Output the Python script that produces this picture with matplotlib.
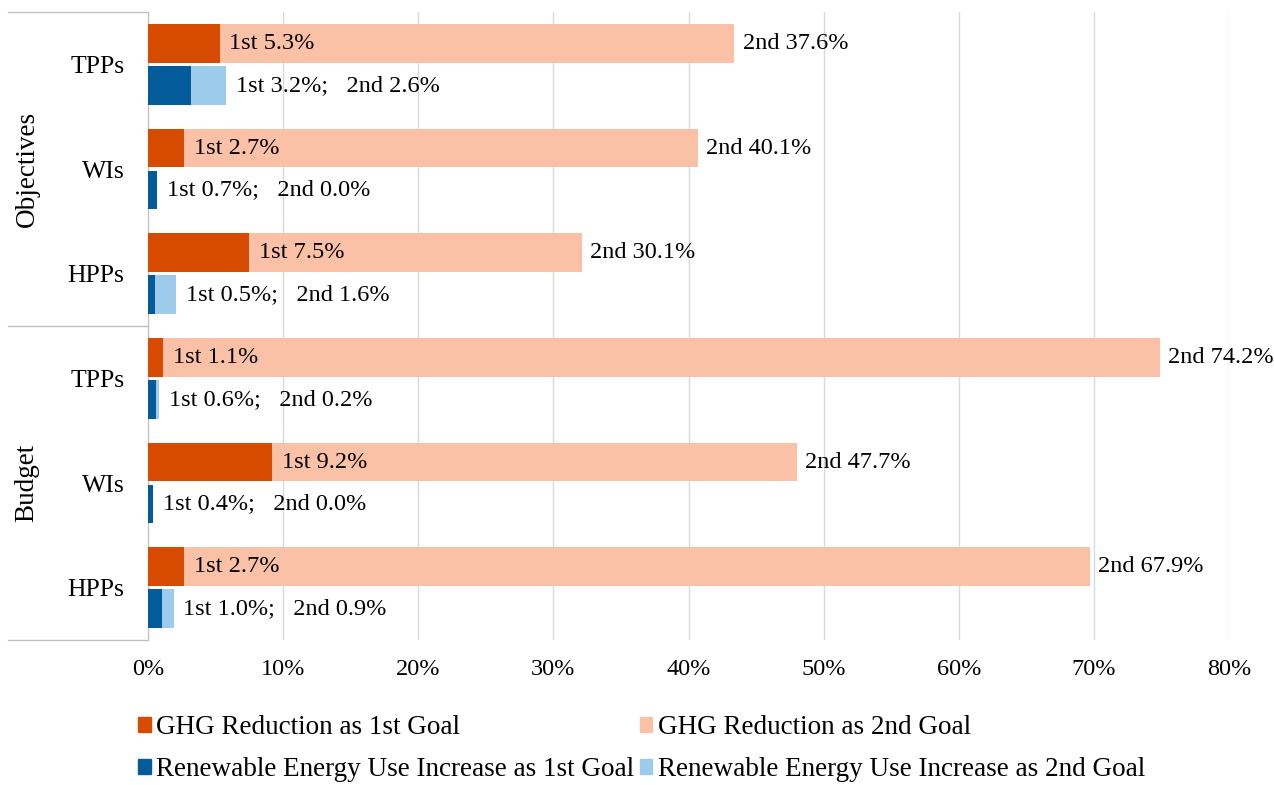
import matplotlib.pyplot as plt
import numpy as np
from matplotlib.patches import Patch
from matplotlib.lines import Line2D

categories = ['TPPs', 'WIs', 'HPPs', 'TPPs', 'WIs', 'HPPs']
groups = ['Objectives', 'Budget']
# values shown in the data labels
ghg_1st = [5.3, 2.7, 7.5, 1.1, 9.2, 2.7]
ghg_2nd = [37.6, 40.1, 30.1, 74.2, 47.7, 67.9]
ren_1st = [3.2, 0.7, 0.5, 0.6, 0.4, 1.0]
ren_2nd = [2.6, 0.0, 1.6, 0.2, 0.0, 0.9]
# light GHG segment lengths as drawn in the picture
ghg_2nd_bar = [38.1, 38.0, 24.6, 73.8, 38.8, 67.0]
xticks = [0, 10, 20, 30, 40, 50, 60, 70, 80]

c_ghg1 = '#D64B00'
c_ghg2 = '#FBC1A7'
c_ren1 = '#035C99'
c_ren2 = '#9CCBEC'

plt.rcParams['font.family'] = ['Liberation Serif', 'DejaVu Serif']
fs = 17.5
fs_big = 19.5

fig = plt.figure(figsize=(12.74, 7.85), dpi=100)
ax = fig.add_axes([148 / 1274, 1 - 640 / 785, (1229 - 148) / 1274, 628 / 785])

y = np.arange(len(categories))
h = 0.37
off = 0.2

ax.barh(y - off, ghg_1st, height=h, color=c_ghg1, zorder=3)
ax.barh(y - off, ghg_2nd_bar, left=ghg_1st, height=h, color=c_ghg2, zorder=3)
ax.barh(y + off, ren_1st, height=h, color=c_ren1, zorder=3)
ax.barh(y + off, ren_2nd, left=ren_1st, height=h, color=c_ren2, zorder=3)

for i in range(len(categories)):
    ax.annotate(f'1st {ghg_1st[i]:.1f}%', (ghg_1st[i], y[i] - off), xytext=(7, 0),
                textcoords='offset points', va='center', ha='left', fontsize=fs, zorder=4)
    tot = ghg_1st[i] + ghg_2nd_bar[i]
    ax.annotate(f'2nd {ghg_2nd[i]:.1f}%', (tot, y[i] - off), xytext=(6, 0),
                textcoords='offset points', va='center', ha='left', fontsize=fs, zorder=4)
    rtot = ren_1st[i] + ren_2nd[i]
    ax.annotate(f'1st {ren_1st[i]:.1f}%;   2nd {ren_2nd[i]:.1f}%', (rtot, y[i] + off),
                xytext=(7, 0), textcoords='offset points', va='center', ha='left',
                fontsize=fs, zorder=4)

ax.set_xlim(0, 80)
ax.set_ylim(len(categories) - 0.5, -0.5)
ax.set_xticks(xticks)
ax.set_xticklabels([f'{t}%' for t in xticks], fontsize=fs)
ax.set_yticks(y)
ax.set_yticklabels(categories, fontsize=18.5)
ax.tick_params(axis='x', length=0, pad=14)
ax.tick_params(axis='y', length=0, pad=17)
ax.grid(axis='x', color='#D9D9D9', linewidth=1, zorder=0)
for s in ['top', 'right', 'bottom']:
    ax.spines[s].set_visible(False)
ax.spines['left'].set_color('#BFBFBF')

# group separators and labels
x0 = (8 - 148) / (1229 - 148)
for yy in [0.0, 0.5, 1.0]:
    ax.add_line(Line2D([x0, 0], [yy, yy], transform=ax.transAxes, color='#BFBFBF',
                       linewidth=1, clip_on=False))
for gi, g in enumerate(groups):
    ax.text(-0.112, 0.75 - 0.5 * gi, g, transform=ax.transAxes, rotation=90,
            ha='center', va='center', fontsize=fs_big)

handles = [Patch(color=c_ghg1), Patch(color=c_ren1), Patch(color=c_ghg2), Patch(color=c_ren2)]
labels = ['GHG Reduction as 1st Goal', 'Renewable Energy Use Increase as 1st Goal',
          'GHG Reduction as 2nd Goal', 'Renewable Energy Use Increase as 2nd Goal']
fig.legend(handles, labels, ncol=2, loc='upper left', bbox_to_anchor=(138 / 1274, 1 - 715 / 785),
           frameon=False, fontsize=fs_big, handlelength=0.47, handleheight=0.47,
           handletextpad=0.2, columnspacing=0.2, labelspacing=0.62, borderpad=0,
           borderaxespad=0)

fig.savefig('out.png', dpi=100)
